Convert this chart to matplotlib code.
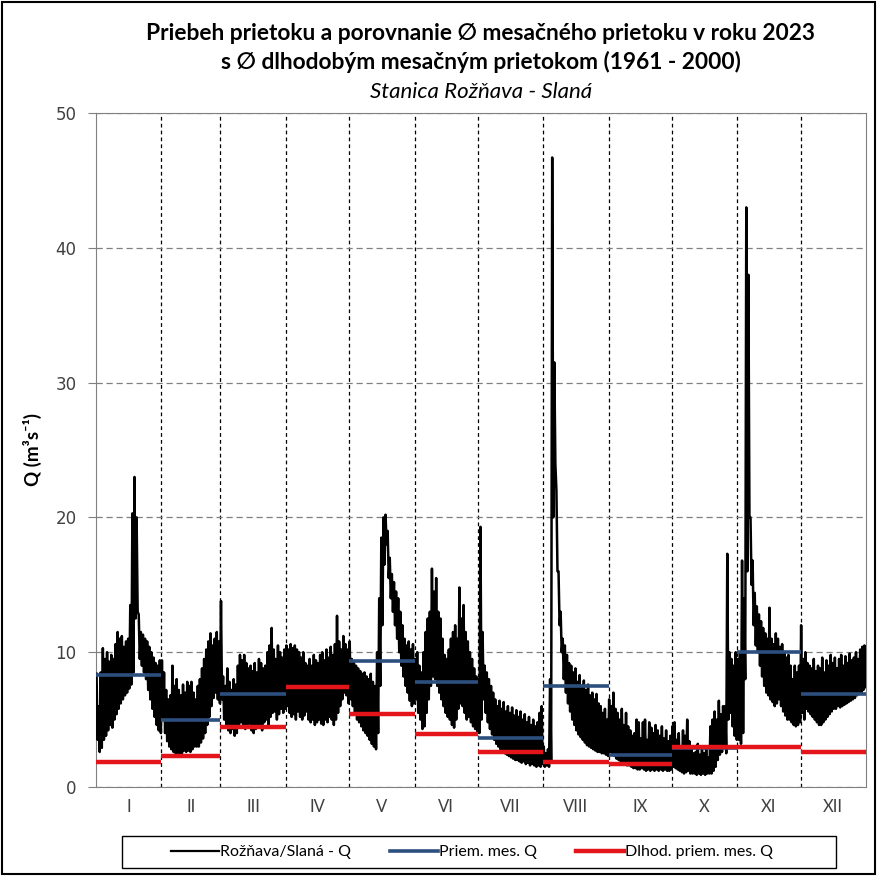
import matplotlib
matplotlib.use('Agg')
import matplotlib.pyplot as plt
from matplotlib.patches import Rectangle
from matplotlib.lines import Line2D
import numpy as np

# Month names and lengths (2023)
months = ['I', 'II', 'III', 'IV', 'V', 'VI', 'VII', 'VIII', 'IX', 'X', 'XI', 'XII']
month_days = [31, 28, 31, 30, 31, 30, 31, 31, 30, 31, 30, 31]

# Average monthly discharge 2023 and long-term average (1961 - 2000)
priem_mes_q = [8.3, 5.0, 6.9, 7.45, 9.35, 7.8, 3.65, 7.5, 2.4, 2.9, 10.0, 6.9]
dlhod_mes_q = [1.85, 2.3, 4.45, 7.4, 5.4, 3.9, 2.6, 1.85, 1.7, 2.95, 2.95, 2.6]

# Daily high / low discharge (m3/s)
q_high = [
  8.4, 6.0, 8.5, 10.3, 9.5, 10.0, 9.3, 9.8, 9.5, 10.6, 11.5, 11.0, 11.2, 10.4, 10.8, 11.0, 13.5, 20.3, 23.0, 20.0, 12.8, 11.5, 11.3, 11.0, 10.8, 10.4, 10.0, 9.6, 9.2, 9.0, 9.4,
  9.4, 8.5, 7.2, 6.5, 6.8, 9.0, 7.5, 8.0, 7.2, 6.8, 7.6, 7.0, 7.8, 7.5, 7.8, 7.0, 6.5, 7.5, 8.0, 8.8, 9.5, 10.2, 10.8, 11.4, 10.5, 11.0, 11.5, 10.8,
  13.8, 8.2, 7.5, 8.8, 7.8, 7.2, 8.0, 7.6, 9.0, 9.8, 9.4, 9.8, 9.2, 8.8, 9.0, 8.6, 9.2, 8.5, 9.5, 9.2, 8.8, 9.0, 10.0, 10.5, 11.8, 10.2, 9.5, 10.5, 10.0, 9.6, 10.2,
  10.5, 10.2, 10.6, 10.3, 10.5, 10.2, 10.0, 9.6, 10.0, 9.2, 9.0, 9.5, 9.0, 9.8, 9.4, 9.2, 9.8, 10.0, 9.4, 10.2, 9.6, 10.4, 9.8, 10.6, 12.7, 10.8, 10.2, 11.2, 10.6, 10.2,
  10.8, 9.5, 9.2, 9.0, 8.8, 8.6, 8.4, 8.5, 8.2, 8.0, 8.4, 7.8, 7.5, 10.0, 14.0, 18.5, 20.0, 20.2, 19.0, 17.0, 15.8, 15.2, 14.5, 14.0, 13.0, 12.0, 11.0, 10.5, 10.8, 10.2, 10.6,
  9.5, 10.0, 9.0, 8.5, 10.0, 11.5, 12.5, 13.0, 16.2, 14.5, 15.5, 13.0, 12.5, 11.0, 9.8, 9.5, 10.2, 11.0, 11.5, 12.0, 11.0, 14.8, 12.5, 13.5, 11.5, 10.8, 10.0, 9.5, 8.8, 8.2,
  8.0, 19.3, 11.5, 9.0, 8.5, 8.0, 7.5, 7.0, 6.5, 6.0, 6.4, 5.8, 6.3, 5.6, 6.0, 5.5, 5.9, 5.3, 5.7, 5.2, 5.6, 5.0, 5.4, 4.8, 5.2, 4.6, 5.0, 4.5, 4.8, 5.5, 6.0,
  3.0, 2.5, 2.8, 8.0, 46.7, 31.5, 22.0, 16.0, 13.0, 11.0, 10.5, 9.8, 9.2, 9.0, 8.5, 8.8, 7.8, 8.3, 7.5, 7.9, 7.2, 7.6, 6.8, 7.0, 6.5, 6.9, 6.2, 6.0, 5.5, 5.8, 5.0,
  6.5, 6.0, 7.0, 5.8, 5.5, 5.0, 5.8, 4.6, 5.5, 4.5, 4.2, 3.8, 4.0, 5.0, 4.8, 3.6, 4.8, 5.0, 3.5, 4.8, 4.4, 4.0, 4.6, 4.2, 3.8, 4.5, 3.6, 4.2, 3.4, 3.8,
  4.5, 4.8, 3.5, 4.0, 3.0, 4.2, 3.8, 5.0, 3.4, 2.8, 2.5, 2.6, 3.2, 2.4, 2.8, 2.5, 3.0, 2.2, 4.5, 5.0, 5.6, 5.0, 6.4, 5.4, 6.0, 6.0, 17.3, 10.0, 9.5, 9.0, 10.0,
  9.5, 10.0, 16.8, 14.0, 43.0, 38.0, 20.0, 16.8, 14.4, 13.4, 12.8, 12.3, 11.8, 11.4, 11.0, 13.3, 11.0, 10.6, 11.4, 11.0, 10.4, 10.6, 10.0, 9.6, 9.8, 9.0, 8.0, 9.0, 8.5, 9.0,
  12.0, 9.5, 10.0, 9.2, 9.0, 8.8, 9.5, 8.6, 9.0, 8.8, 9.6, 8.5, 9.4, 9.0, 9.8, 9.2, 9.6, 8.8, 9.5, 9.8, 9.0, 9.7, 9.2, 9.9, 9.4, 9.6, 10.0, 9.5, 10.2, 10.4, 10.5,
]
q_low = [
  3.5, 2.6, 2.9, 3.5, 3.8, 4.2, 4.6, 4.4, 5.0, 5.4, 5.8, 6.2, 6.5, 6.8, 7.0, 7.3, 7.6, 8.5, 12.5, 13.0, 9.5, 9.0, 8.5, 8.0, 7.2, 6.5, 5.8, 5.2, 4.6, 4.2, 4.0,
  5.0, 4.0, 3.4, 3.0, 2.8, 2.6, 2.5, 2.5, 2.4, 2.5, 2.7, 2.6, 2.7, 2.6, 2.8, 3.0, 3.0, 3.0, 3.3, 3.6, 4.0, 4.6, 5.2, 6.0, 6.6, 7.0, 6.5, 6.2,
  6.5, 5.0, 4.6, 4.2, 4.0, 4.3, 3.8, 4.0, 4.5, 4.8, 4.6, 4.3, 4.4, 4.7, 4.2, 4.0, 4.3, 4.5, 4.4, 4.2, 4.8, 5.0, 4.6, 5.2, 5.5, 5.6, 5.0, 5.4, 5.8, 5.5, 5.8,
  6.0, 5.5, 5.2, 5.4, 5.0, 5.6, 5.2, 5.0, 5.3, 5.6, 5.0, 4.8, 5.0, 4.6, 4.8, 5.0, 4.7, 4.6, 5.0, 4.8, 5.2, 5.0, 4.6, 5.0, 5.5, 6.0, 6.5, 7.0, 6.8, 6.2,
  6.5, 6.0, 5.5, 5.0, 4.8, 4.5, 4.2, 4.0, 3.8, 3.5, 3.2, 3.0, 2.8, 4.0, 7.5, 12.0, 16.5, 18.0, 15.5, 14.0, 13.0, 12.0, 11.0, 10.0, 9.0, 8.2, 7.5, 7.0, 6.4, 6.0, 6.2,
  6.5, 5.5, 5.0, 4.3, 4.5, 5.5, 6.5, 7.5, 8.2, 8.0, 7.5, 7.0, 6.5, 6.0, 5.5, 5.2, 5.0, 4.6, 4.4, 5.0, 5.8, 6.2, 6.0, 5.5, 5.0, 5.2, 4.8, 4.5, 4.3, 4.0,
  4.0, 5.0, 6.5, 5.5, 4.8, 4.3, 3.9, 3.5, 3.2, 3.0, 2.8, 2.6, 2.5, 2.4, 2.3, 2.2, 2.1, 2.0, 2.0, 1.9, 1.8, 1.9, 1.7, 1.8, 1.6, 1.7, 1.6, 1.5, 1.6, 1.5, 1.7,
  1.5, 1.6, 1.5, 2.0, 20.0, 24.0, 16.0, 12.0, 10.0, 8.0, 7.0, 6.2, 5.6, 5.0, 4.6, 4.2, 3.9, 3.7, 3.5, 3.3, 3.1, 3.0, 2.9, 2.8, 2.7, 2.6, 2.6, 2.5, 2.5, 2.4, 2.3,
  2.6, 2.4, 2.3, 2.1, 2.0, 1.9, 1.8, 1.7, 1.6, 1.6, 1.5, 1.4, 1.4, 1.3, 1.3, 1.4, 1.3, 1.2, 1.3, 1.2, 1.3, 1.2, 1.3, 1.2, 1.3, 1.2, 1.3, 1.2, 1.2, 1.3,
  1.5, 1.4, 1.3, 1.2, 1.1, 1.0, 1.1, 1.2, 1.0, 1.0, 1.0, 0.9, 1.0, 0.9, 1.0, 0.9, 1.0, 1.0, 1.0, 1.2, 1.5, 2.0, 2.4, 2.6, 3.0, 2.5, 5.0, 5.5, 4.5, 3.8, 3.5,
  3.5, 3.2, 4.0, 8.0, 16.0, 20.0, 15.0, 12.0, 10.5, 10.0, 9.0, 8.2, 7.5, 7.0, 6.8, 6.5, 6.3, 6.0, 6.2, 6.5, 6.0, 5.6, 5.3, 5.0, 5.0, 4.8, 4.6, 4.5, 4.6, 4.8,
  5.5, 5.0, 5.8, 5.6, 5.4, 5.2, 5.0, 4.8, 4.6, 4.6, 4.8, 5.0, 5.2, 5.4, 5.6, 5.8, 5.8, 6.0, 5.9, 6.0, 6.1, 6.2, 6.3, 6.4, 6.5, 6.6, 6.8, 6.9, 7.0, 7.2, 7.4,
]

font_list = ['Lato', 'DejaVu Sans']
plt.rcParams['font.family'] = font_list

fig = plt.figure(figsize=(8.77, 8.76), dpi=100)
ax = fig.add_axes([96 / 877, 89 / 876, 770 / 877, 674 / 876])

# Build the hydrograph: high and low value of every day
days = np.arange(365)
x_series = np.column_stack([days + 0.25, days + 0.75]).ravel()
y_series = np.column_stack([q_high, q_low]).ravel()
ax.plot(x_series, y_series, color='black', linewidth=1.8, zorder=3)

# Monthly average lines
edges = np.concatenate([[0], np.cumsum(month_days)])
ax.hlines(priem_mes_q, edges[:-1], edges[1:], color='#2C4F7F', linewidth=2.6, zorder=4)
ax.hlines(dlhod_mes_q, edges[:-1], edges[1:], color='#E3151B', linewidth=3.2, zorder=5)

# Axis limits and ticks
ax.set_xlim(0, 365)
ax.set_ylim(0, 50)
ax.set_yticks(range(0, 51, 10))
ax.set_xticks(edges[1:-1])
ax.set_xticklabels([])
ax.set_xticks((edges[:-1] + edges[1:]) / 2, minor=True)
ax.set_xticklabels(months, minor=True, fontsize=12, color='#404040')
ax.tick_params(axis='x', which='both', length=0, pad=9)
ax.tick_params(axis='y', length=6, color='#808080', labelsize=12, labelcolor='#404040', pad=8)
for label in ax.get_yticklabels():
  label.set_family('DejaVu Sans')

# Gridlines
ax.grid(axis='y', color='#808080', linestyle=(0, (5, 3)), linewidth=0.9)
ax.grid(axis='x', which='major', color='black', linestyle=(0, (3, 2.5)), linewidth=0.9)
for spine in ax.spines.values():
  spine.set_color('#808080')

# Labels and title
ax.set_ylabel('Q (m\u00b3s\u207b\u00b9)', fontsize=13.5, fontweight='bold', labelpad=10)
fig.text(481 / 877, 1 - 33 / 876, 'Priebeh prietoku a porovnanie \u2205 mesa\u010dn\u00e9ho prietoku v roku 2023',
         ha='center', va='center', fontsize=16.4, fontweight='bold')
fig.text(481 / 877, 1 - 62 / 876, 's \u2205 dlhodob\u00fdm mesa\u010dn\u00fdm prietokom (1961 - 2000)',
         ha='center', va='center', fontsize=16.4, fontweight='bold')
fig.text(481 / 877, 1 - 92 / 876, 'Stanica Ro\u017e\u0148ava - Slan\u00e1',
         ha='center', va='center', fontsize=16, style='italic')

# Legend in its own box
handles = [Line2D([], [], color='black', linewidth=1.6),
           Line2D([], [], color='#2C4F7F', linewidth=2.6),
           Line2D([], [], color='#E3151B', linewidth=3.2)]
labels = ['Ro\u017e\u0148ava/Slan\u00e1 - Q', 'Priem. mes. Q', 'Dlhod. priem. mes. Q']
fig.legend(handles, labels, loc='center', bbox_to_anchor=(472 / 877, 1 - 852 / 876), ncol=3,
           frameon=False, fontsize=11.5, handlelength=3.0, handletextpad=0.1, columnspacing=2.4)
fig.patches.append(Rectangle((122 / 877, 8 / 876), 714 / 877, 32 / 876, transform=fig.transFigure,
                             fill=False, edgecolor='black', linewidth=1.0))

# Outer frame
fig.patches.append(Rectangle((0.002, 0.002), 0.996, 0.996, transform=fig.transFigure,
                             fill=False, edgecolor='black', linewidth=1.5))

fig.savefig('out.png', dpi=100)
